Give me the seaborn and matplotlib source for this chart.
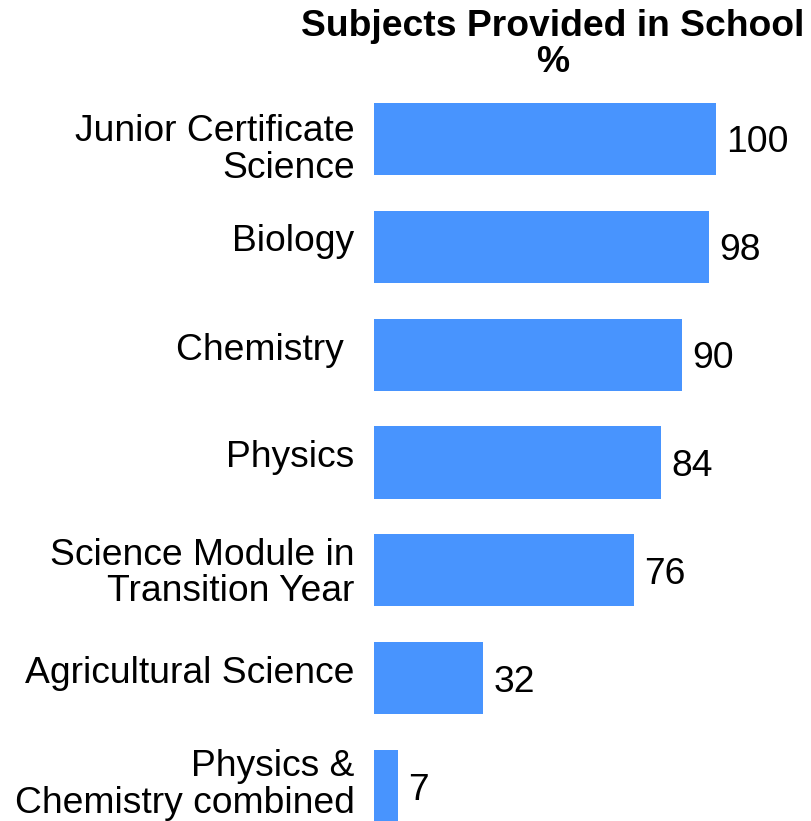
import matplotlib
matplotlib.use("Agg")
import matplotlib.pyplot as plt
import matplotlib.transforms as mtransforms
import seaborn as sns
import pandas as pd

subjects = [
    "Junior Certificate\nScience",
    "Biology",
    "Chemistry ",
    "Physics",
    "Science Module in\nTransition Year",
    "Agricultural Science",
    "Physics &\nChemistry combined",
]
percent = [100, 98, 90, 84, 76, 32, 7]

title_lines = "Subjects Provided in School\n%"
bar_color = "#4894FE"

sns.set_theme(style="white")
plt.rcParams["font.family"] = ["Liberation Sans", "DejaVu Sans"]

FS = 26.8
df = pd.DataFrame({"subject": subjects, "percent": percent})

W, H = 812, 821
fig = plt.figure(figsize=(W / 100, H / 100), dpi=100)
# axes span from the bar baseline to the right edge; bottom row runs off the figure
ax_left, ax_right = 374, 812
ax_top, ax_bottom = 85, 840
ax = fig.add_axes([ax_left / W, 1 - ax_bottom / H,
                   (ax_right - ax_left) / W, (ax_bottom - ax_top) / H])

sns.barplot(data=df, y="subject", x="percent", orient="h", color=bar_color,
            saturation=1, width=0.67, linewidth=0, ax=ax)

ax.set_xlim(0, 100 * (ax_right - ax_left) / (716 - ax_left))
ax.set_ylim(len(subjects) - 0.5, -0.5)

for c in ax.containers:
    texts = ax.bar_label(c, labels=[f"{v:g}" for v in percent], padding=7.5,
                         fontsize=FS, color="black")
    for t in texts:
        t.set_va("center_baseline")

ax.set_xlabel("")
ax.set_ylabel("")
ax.set_xticks([])
ax.tick_params(axis="y", length=0, pad=14, labelsize=FS, labelcolor="black")

# small vertical nudges (pixels, downward) for the category labels
label_nudge_px = [11, -5, -4, -5, 3, -5, -1]
for lbl, dy in zip(ax.get_yticklabels(), label_nudge_px):
    lbl.set_linespacing(1.05)
    lbl.set_va("center")
    lbl.set_transform(lbl.get_transform() +
                      mtransforms.ScaledTranslation(0, -dy / 100, fig.dpi_scale_trans))

for s in ax.spines.values():
    s.set_visible(False)

fig.text(553 / W, 1 - 9 / H, title_lines, ha="center", va="top",
         fontsize=FS, fontweight="bold", linespacing=1.02, color="black")

fig.savefig("out.png", dpi=100, facecolor="white")
